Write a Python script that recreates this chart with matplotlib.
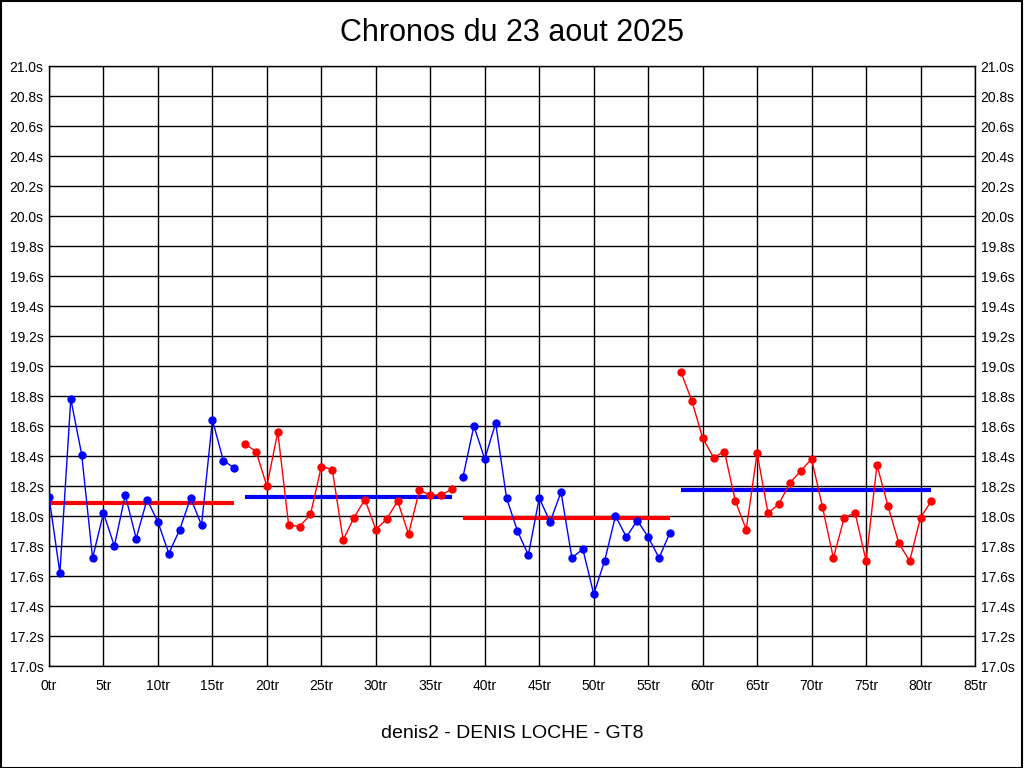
import matplotlib
matplotlib.use("Agg")
import matplotlib.pyplot as plt
import numpy as np

plt.rcParams['font.family'] = ['Liberation Sans', 'DejaVu Sans']

title = "Chronos du 23 aout 2025"
xlabel = "denis2 - DENIS LOCHE - GT8"

# laps (tours) per relay segment
s1_x = list(range(0, 18))
s1_y = [18.13, 17.62, 18.78, 18.41, 17.72, 18.02, 17.80, 18.14, 17.85, 18.11,
        17.96, 17.75, 17.91, 18.12, 17.94, 18.64, 18.37, 18.32]
s2_x = list(range(18, 38))
s2_y = [18.48, 18.43, 18.20, 18.56, 17.94, 17.93, 18.01, 18.33, 18.31, 17.84,
        17.99, 18.11, 17.91, 17.98, 18.10, 17.88, 18.17, 18.14, 18.14, 18.18]
s3_x = list(range(38, 58))
s3_y = [18.26, 18.60, 18.38, 18.62, 18.12, 17.90, 17.74, 18.12, 17.96, 18.16,
        17.72, 17.78, 17.48, 17.70, 18.00, 17.86, 17.97, 17.86, 17.72, 17.89]
s4_x = list(range(58, 82))
s4_y = [18.96, 18.77, 18.52, 18.39, 18.43, 18.10, 17.91, 18.42, 18.02, 18.08,
        18.22, 18.30, 18.38, 18.06, 17.72, 17.99, 18.02, 17.70, 18.34, 18.07,
        17.82, 17.70, 17.99, 18.10]
series = [(s1_x, s1_y, 'blue'), (s2_x, s2_y, 'red'),
          (s3_x, s3_y, 'blue'), (s4_x, s4_y, 'red')]
avg_vals = [18.09, 18.13, 17.99, 18.17]
avg_colors = ['red', 'blue', 'red', 'blue']

x_ticks = list(range(0, 90, 5))
x_ticklabels = [f"{v}tr" for v in x_ticks]
y_ticks = [round(17.0 + 0.2 * i, 1) for i in range(21)]
y_ticklabels = [f"{v:.1f}s" for v in y_ticks]

fig = plt.figure(figsize=(10.24, 7.68), dpi=100)
ax = fig.add_axes([49 / 1024, 1 - 666 / 768, 926 / 1024, 600 / 768])

for (xs, ys, c) in series:
    ax.plot(xs, ys, color=c, lw=1.0, marker='o', markersize=5, zorder=3)
for (xs, ys, c), v, ac in zip(series, avg_vals, avg_colors):
    ax.plot([xs[0], xs[-1]], [v, v], color=ac, lw=3, solid_capstyle='butt', zorder=2)

ax.set_xlim(0, 85)
ax.set_ylim(17.0, 21.0)
ax.set_xticks(x_ticks)
ax.set_xticklabels(x_ticklabels, fontsize=10)
ax.set_yticks(y_ticks)
ax.set_yticklabels(y_ticklabels, fontsize=10)
ax.grid(True, color='black', lw=1.0)
ax.set_axisbelow(True)
ax.tick_params(axis='y', which='both', left=True, right=True, labelleft=True,
               labelright=True, length=0, pad=4)
ax.tick_params(axis='x', length=0, pad=9)
for s in ax.spines.values():
    s.set_color('black')
    s.set_linewidth(1)

fig.text(0.5, 1 - 33 / 768, title, ha='center', va='center', fontsize=22)
fig.text(0.5, 1 - 733 / 768, xlabel, ha='center', va='center', fontsize=14)

border = plt.Rectangle((0.0005, 0.0005), 0.998, 0.998, transform=fig.transFigure,
                       fill=False, edgecolor='black', lw=1.5)
fig.patches.append(border)

fig.savefig("out.png", dpi=100, facecolor='white')
